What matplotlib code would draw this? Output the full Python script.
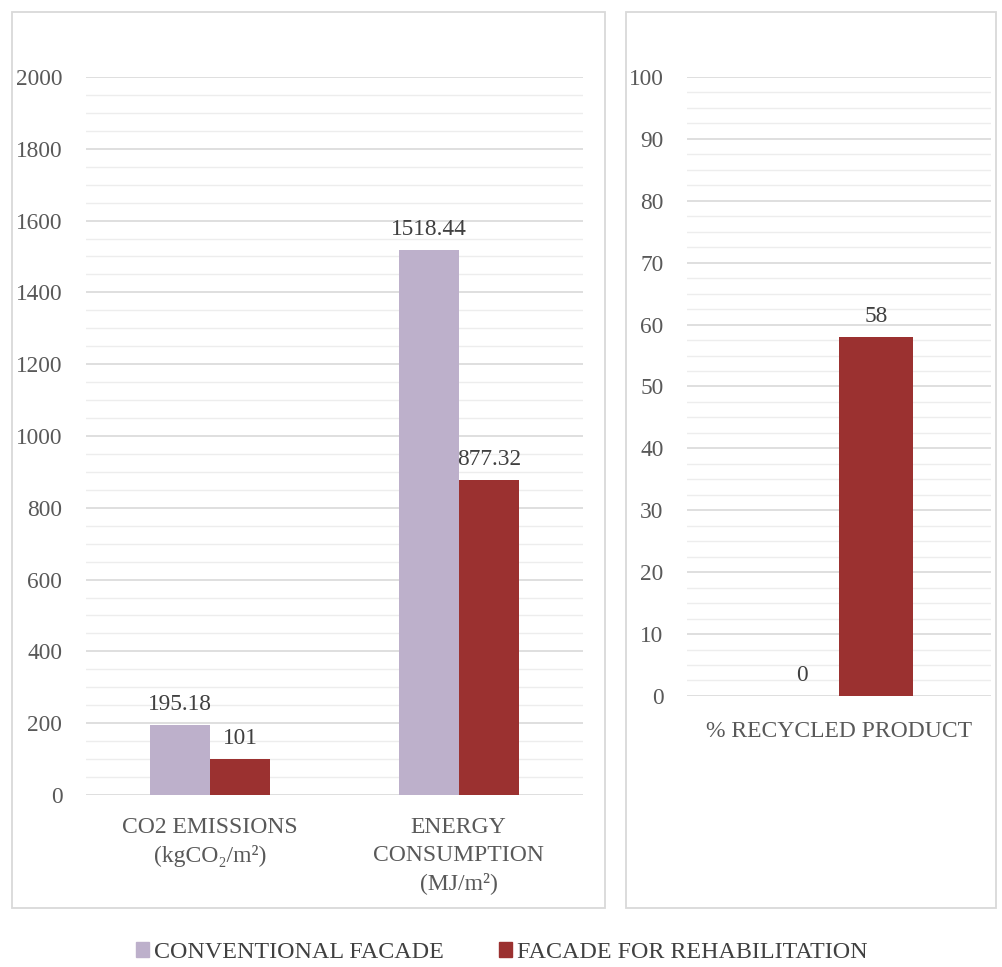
import numpy as np
import matplotlib
matplotlib.use('Agg')
import matplotlib.pyplot as plt
from matplotlib.patches import Rectangle
from matplotlib.ticker import MultipleLocator

plt.rcParams['font.family'] = ['Liberation Serif', 'DejaVu Serif']

# data
categories = ['CO2 EMISSIONS\n(kgCO\u2082/m\u00b2)', 'ENERGY\nCONSUMPTION\n(MJ/m\u00b2)']
conventional = [195.18, 1518.44]
rehabilitation = [101, 877.32]

recycled_cat = ['% RECYCLED PRODUCT']
recycled_conv = [0]
recycled_rehab = [58]

series_names = ['CONVENTIONAL FACADE', 'FACADE FOR REHABILITATION']

c_conv = '#BDB0CB'
c_rehab = '#9B3130'
txt = '#595959'
fs = 16.8
fs_cat = 17

fig = plt.figure(figsize=(10.03, 9.67), dpi=100)

# panel frames
for x0, w in [(0.012, 0.591), (0.624, 0.369)]:
    fig.patches.append(Rectangle((x0, 0.061), w, 0.9266, transform=fig.transFigure,
                                 fill=False, edgecolor='#D9D9D9', lw=1.3))


def style(ax, major, minor):
    ax.yaxis.set_major_locator(MultipleLocator(major))
    ax.yaxis.set_minor_locator(MultipleLocator(minor))
    ax.grid(axis='y', which='major', color='#D9D9D9', lw=1.2)
    ax.grid(axis='y', which='minor', color='#EDEDED', lw=1.0)
    ax.set_axisbelow(True)
    for s in ax.spines.values():
        s.set_visible(False)
    ax.tick_params(axis='both', which='both', length=0, labelcolor=txt)
    ax.tick_params(axis='y', labelsize=fs, pad=17)
    ax.tick_params(axis='x', labelsize=fs_cat, pad=16)


def labels(ax, bars, vals):
    for b, v in zip(bars, vals):
        ax.annotate(f'{v:g}', (b.get_x() + b.get_width() / 2, b.get_height()),
                    xytext=(0, 7), textcoords='offset points', ha='center', va='bottom',
                    fontsize=fs, color='#404040')


# left chart
ax1 = fig.add_axes([0.0857, 0.1779, 0.4955, 0.7425])
x = np.arange(len(categories))
w = 0.242
b1 = ax1.bar(x - w / 2, conventional, w, color=c_conv, label=series_names[0])
b2 = ax1.bar(x + w / 2, rehabilitation, w, color=c_rehab, label=series_names[1])
ax1.set_xlim(-0.5, 1.5)
ax1.set_ylim(0, 2000)
ax1.set_xticks(x)
ax1.set_xticklabels(categories, linespacing=1.4)
style(ax1, 200, 50)
labels(ax1, b1, conventional)
labels(ax1, b2, rehabilitation)

# right chart
ax2 = fig.add_axes([0.685, 0.2803, 0.303, 0.6401])
x2 = np.arange(len(recycled_cat))
b3 = ax2.bar(x2 - w / 2, recycled_conv, w, color=c_conv)
b4 = ax2.bar(x2 + w / 2, recycled_rehab, w, color=c_rehab)
ax2.set_xlim(-0.5, 0.5)
ax2.set_ylim(0, 100)
ax2.set_xticks(x2)
ax2.set_xticklabels(recycled_cat)
style(ax2, 10, 2.5)
ax2.tick_params(axis='x', pad=18)
labels(ax2, b3, recycled_conv)
labels(ax2, b4, recycled_rehab)

# legend
handles = [Rectangle((0, 0), 1, 1, color=c_conv), Rectangle((0, 0), 1, 1, color=c_rehab)]
fig.legend(handles, series_names, loc='lower center', bbox_to_anchor=(0.5, -0.018), ncol=2,
           frameon=False, fontsize=17.3, handlelength=0.55, handleheight=0.55, handletextpad=0.2,
           columnspacing=2.3, labelcolor='#404040')

fig.savefig('out.png', dpi=100)
